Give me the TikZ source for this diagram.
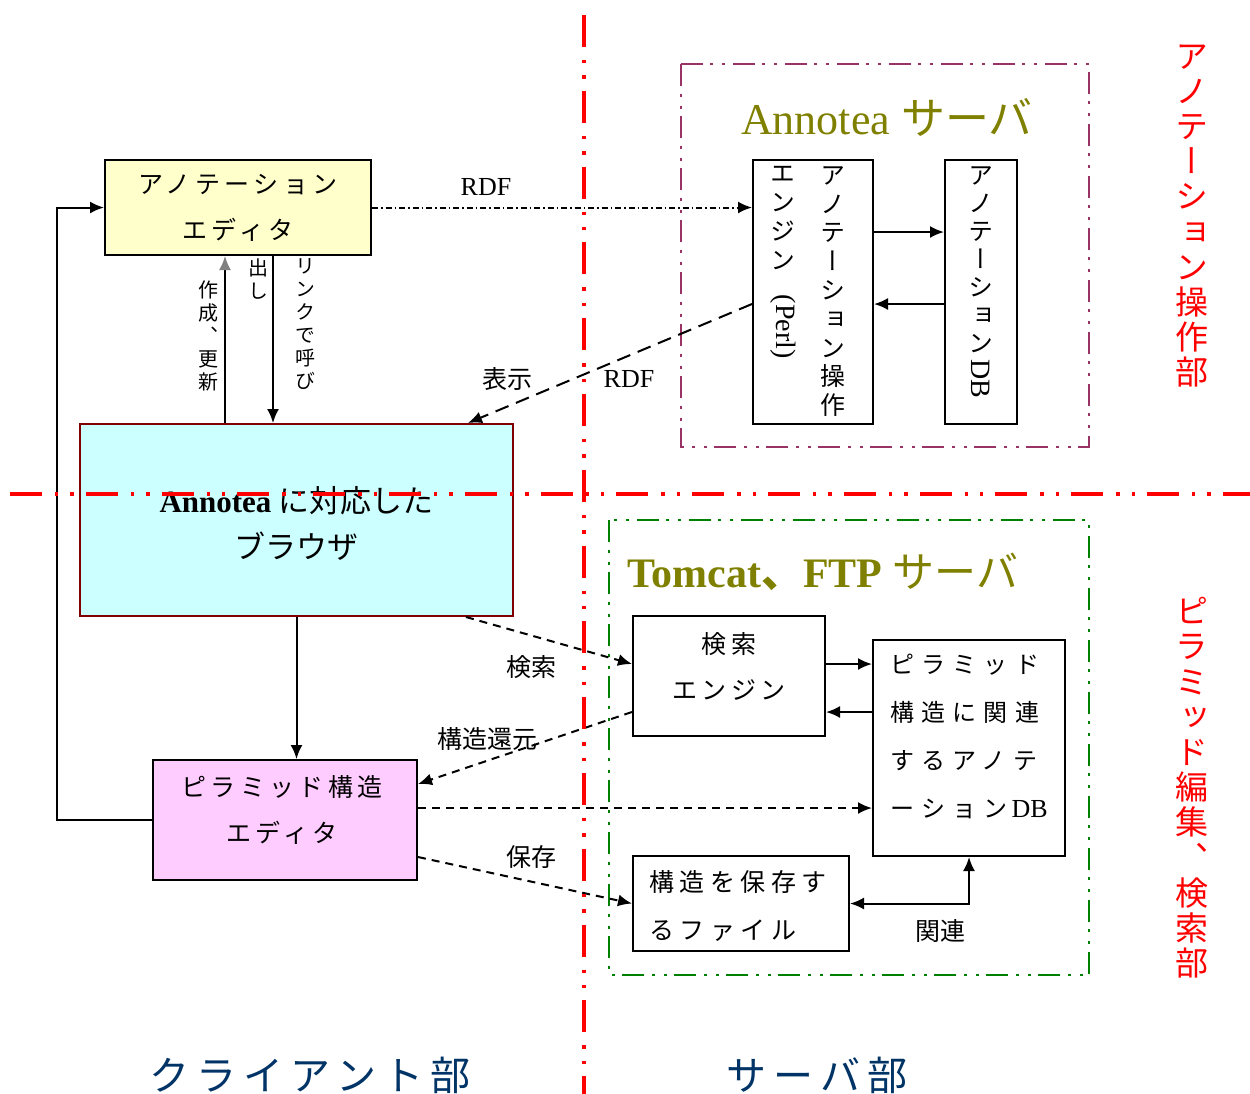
\documentclass[tikz,border=0pt]{standalone}
\usepackage{fontspec}
\usepackage{graphicx}
\setmainfont{Liberation Serif}
\newfontfamily\jp{Noto Sans CJK JP}
\newfontfamily\jpsp[LetterSpace=18]{Noto Sans CJK JP}
\newfontfamily\jpspf[LetterSpace=22]{Noto Sans CJK JP}
\newfontfamily\jpspw[LetterSpace=30]{Noto Sans CJK JP}
\newfontfamily\jpv[RawFeature=+vert]{Noto Sans CJK JP}
\usetikzlibrary{arrows.meta,calc}
\definecolor{cyellow}{HTML}{FFFFCC}
\definecolor{ccyan}{HTML}{CCFFFF}
\definecolor{cpink}{HTML}{FFCCFF}
\definecolor{cmaroon}{HTML}{800000}
\definecolor{cplum}{HTML}{993366}
\definecolor{cgreen}{HTML}{008000}
\definecolor{colive}{HTML}{808000}
\definecolor{cnavy}{HTML}{003366}
\newcommand\vlatin[2]{\raisebox{#1}[0pt][0pt]{\rotatebox{-90}{\fontsize{14}{14}\selectfont\rmfamily #2}}}
\tikzset{
  box/.style={draw=black, line width=1pt, align=center, inner sep=0pt},
  arr/.style={line width=1pt, -{Latex[length=7pt,width=6pt]}},
  darr/.style={arr, dash pattern=on 4pt off 3pt},
  ddarr/.style={arr, dash pattern=on 3pt off 1.5pt on 0.75pt off 1.5pt},
  lab/.style={font=\jp\fontsize{12.5}{14}\selectfont, inner sep=0pt},
  vlab/.style={align=center, inner sep=0pt, anchor=north},
  grp/.style={line width=1pt, dash pattern=on 11pt off 4pt on 1.5pt off 4.5pt on 1.5pt off 3.5pt},
  divider/.style={red, line width=1.6pt, dash pattern=on 16pt off 6.5pt on 1.7pt off 6pt on 1.7pt off 6pt},
}
\begin{document}
\begin{tikzpicture}[x=0.5pt,y=-0.5pt]
\useasboundingbox (0,0) rectangle (1250,1094);

% group boxes
\draw[grp, cplum] (681,64) rectangle (1089,447);
\draw[grp, cgreen] (609,520) rectangle (1089,975);
\node[font=\fontsize{22}{24}\selectfont, text=colive, inner sep=0pt] (t1) at (887,117) {Annotea {\jp サーバ}};
\node[font=\fontsize{21}{24}\selectfont\bfseries, text=colive, inner sep=0pt, anchor=west] (t2) at (627,572) {Tomcat{\jp 、}FTP {\jp\mdseries サーバ}};

% client boxes
\node[box, fill=cyellow, minimum width=133pt, minimum height=47.5pt, font=\jpsp\fontsize{12.5}{23}\selectfont] (editor) at (238,207.5) {アノテーション\\エディタ};
\node[box, draw=cmaroon, fill=ccyan, minimum width=216.5pt, minimum height=96pt] (browser) at (296.5,520) {};
\node[font=\jp\fontsize{15.5}{23}\selectfont, align=center, inner sep=0pt] (browsert) at (296.5,523) {{\rmfamily\bfseries Annotea} に対応した\\ブラウザ};
\node[box, fill=cpink, minimum width=132pt, minimum height=60pt] (pyred) at (285,820) {};
\node[font=\jpsp\fontsize{12.5}{23}\selectfont, align=center, inner sep=0pt] (pyredt) at (282,810) {ピラミッド構造\\エディタ};

% Annotea server boxes
\node[box, minimum width=60pt, minimum height=132pt] (engine) at (813,292) {};
\node[box, minimum width=36pt, minimum height=132pt] (db) at (981,292) {};
\node[vlab, font=\jpv\fontsize{12.5}{14.4}\selectfont] (engA) at (833,166) {ア\\ノ\\テ\\ー\\シ\\ョ\\ン\\操\\作};
\node[vlab, font=\jpv\fontsize{12.5}{14.4}\selectfont] (engB) at (783,166) {エ\\ン\\ジ\\ン\\\vlatin{1.5pt}{(Perl)}};
\node[vlab, font=\jpv\fontsize{12.5}{14}\selectfont] (dbt) at (981,166) {ア\\ノ\\テ\\ー\\シ\\ョ\\ン\\\vlatin{10.5pt}{DB}};

% Tomcat boxes
\node[box, minimum width=96pt, minimum height=60pt] (search) at (729,676) {};
\node[font=\jpsp\fontsize{12.5}{23}\selectfont, align=center, inner sep=0pt] (searcht) at (729,666) {検索\\エンジン};
\node[box, minimum width=96pt, minimum height=108pt] (pyrdb) at (969,748) {};
\node[font=\jpspw\fontsize{12}{24}\selectfont, align=left, inner sep=0pt, anchor=north west] (pyrdbt) at (890,654) {ピラミッド\\構造に関連\\するアノテ\\ーション\,{\rmfamily\fontsize{13}{24}\selectfont DB}};
\node[box, minimum width=108pt, minimum height=47.5pt] (file) at (741,903.5) {};
\node[font=\jpspf\fontsize{12.5}{24}\selectfont, align=left, inner sep=0pt, anchor=north west] (filet) at (649,870) {構造を保存す\\るファイル};

% connectors
\draw[ddarr] (editor.east) -- (editor.east -| engine.west);
\node[font=\fontsize{13}{14}\selectfont, inner sep=0pt] (rdf1) at (486,187) {RDF};
\draw[darr, dash pattern=on 7pt off 4pt] ([yshift=-6pt]engine.west) -- ([xshift=-23pt]browser.north east);
\node[lab] (disp) at (507,379) {表示};
\node[font=\fontsize{13}{14}\selectfont, inner sep=0pt] (rdf2) at (629,379) {RDF};
\draw[arr] ([yshift=30pt]engine.east) -- ([yshift=30pt]db.west);
\draw[arr] ([yshift=-6pt]db.west) -- ([yshift=-6pt]engine.east);

\draw[arr] ([xshift=17.5pt]editor.south) -- ([xshift=17.5pt]editor.south |- browser.north);
\draw[line width=1pt, -{Latex[length=7pt,width=6pt,color=gray]}] ([xshift=-6.5pt]editor.south |- browser.north) -- ([xshift=-6.5pt]editor.south);
\node[vlab, font=\jpv\fontsize{10}{11.5}\selectfont] (call1) at (305,258) {リ\\ン\\ク\\で\\呼\\び};
\node[vlab, font=\jpv\fontsize{10}{11.5}\selectfont] (call2) at (258,258) {出\\し};
\node[vlab, font=\jpv\fontsize{10}{11.5}\selectfont] (upd) at (208,280) {作\\成\\、\\更\\新};

\draw[arr] (browser.south) -- (browser.south |- pyred.north);
\coordinate (loopx) at (57,0);
\draw[arr] (pyred.west) -- (loopx |- pyred.west) -- (loopx |- editor.west) -- (editor.west);

\draw[darr] ([xshift=-24pt]browser.south east) -- ([yshift=6pt]search.west);
\node[lab] (srch) at (531,667) {検索};
\draw[darr] ([yshift=-18pt]search.west) -- ([yshift=18pt]pyred.east);
\node[lab] (restore) at (487,739) {構造還元};
\draw[arr] ([yshift=6pt]search.east) -- ([yshift=6pt]search.east -| pyrdb.west);
\draw[arr] ([yshift=-18pt]search.east -| pyrdb.west) -- ([yshift=-18pt]search.east);
\draw[darr] ([yshift=6pt]pyred.east) -- ([yshift=6pt]pyred.east -| pyrdb.west);
\draw[darr] ([yshift=12pt]pyred.south east) -- (file.west);
\node[lab] (save) at (531,857) {保存};
\draw[arr, {Latex[length=7pt,width=6pt]}-{Latex[length=7pt,width=6pt]}] (file.east) -| (pyrdb.south);
\node[lab] (rel) at (940,931) {関連};

% dividers
\draw[divider] (584,15) -- (584,1094);
\draw[divider] (10,494) -- (1250,494);

% region labels
\node[font=\jpsp\fontsize{20}{22}\selectfont, text=cnavy, inner sep=0pt] (client) at (310,1075) {クライアント部};
\node[font=\jpsp\fontsize{20}{22}\selectfont, text=cnavy, inner sep=0pt] (server) at (817,1075) {サーバ部};
\node[vlab, font=\jpv\fontsize{16.5}{17.6}\selectfont, text=red] (r1) at (1192,44) {ア\\ノ\\テ\\ー\\シ\\ョ\\ン\\操\\作\\部};
\node[vlab, font=\jpv\fontsize{16.5}{17.6}\selectfont, text=red] (r2) at (1192,597) {ピ\\ラ\\ミ\\ッ\\ド\\編\\集\\、\\検\\索\\部};
\end{tikzpicture}
\end{document}
